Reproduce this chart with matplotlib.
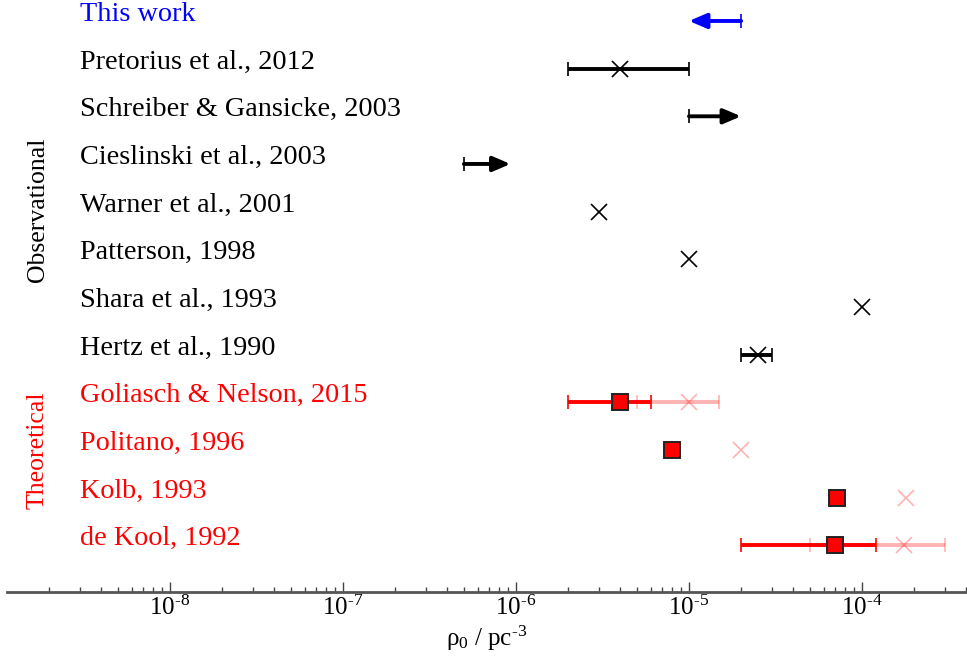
import numpy as np
import matplotlib.pyplot as plt
from matplotlib.ticker import FixedLocator, FuncFormatter, NullFormatter

plt.rcParams['font.family'] = ['Liberation Serif', 'DejaVu Serif']
plt.rcParams['mathtext.fontset'] = 'custom'
plt.rcParams['mathtext.rm'] = 'Liberation Serif'
plt.rcParams['mathtext.it'] = 'Liberation Serif:italic'

# row labels, top to bottom
labels = ['This work', 'Pretorius et al., 2012', 'Schreiber & Gansicke, 2003',
          'Cieslinski et al., 2003', 'Warner et al., 2001', 'Patterson, 1998',
          'Shara et al., 1993', 'Hertz et al., 1990', 'Goliasch & Nelson, 2015',
          'Politano, 1996', 'Kolb, 1993', 'de Kool, 1992']
label_colors = ['blue'] + ['black'] * 7 + ['red'] * 4

# observational points (value, low, high); None = no bar
obs_names = ['Pretorius et al., 2012', 'Warner et al., 2001', 'Patterson, 1998',
             'Shara et al., 1993', 'Hertz et al., 1990']
obs_val = [4e-6, 3e-6, 1e-5, 1e-4, 2.5e-5]
obs_lo = [2e-6, None, None, None, 2e-5]
obs_hi = [1e-5, None, None, None, 3e-5]

# limits: (name, start, end, colour)
lim_names = ['This work', 'Schreiber & Gansicke, 2003', 'Cieslinski et al., 2003']
lim_start = [2e-5, 1e-5, 5e-7]
lim_end = [1e-5, 2e-5, 9.3e-7]
lim_colors = ['blue', 'black', 'black']

# theoretical models
th_names = ['Goliasch & Nelson, 2015', 'Politano, 1996', 'Kolb, 1993', 'de Kool, 1992']
th_val = [4e-6, 8e-6, 7.2e-5, 7e-5]
th_lo = [2e-6, None, None, 2e-5]
th_hi = [6e-6, None, None, 1.2e-4]
# shifted (faint) values
th2_val = [1e-5, 2e-5, 1.8e-4, 1.75e-4]
th2_lo = [5e-6, None, None, 5e-5]
th2_hi = [1.5e-5, None, None, 3e-4]

decades = [1e-8, 1e-7, 1e-6, 1e-5, 1e-4]

n = len(labels)
ypos = {lab: n - i for i, lab in enumerate(labels)}

fig = plt.figure(figsize=(9.67, 6.62), dpi=100)
ax = fig.add_axes([7/967, 70/662, 960/967, 592/662])
ax.set_xscale('log')

pink = (1.0, 0.0, 0.0, 0.3)

for name, v, lo, hi in zip(obs_names, obs_val, obs_lo, obs_hi):
    y = ypos[name]
    if lo is not None:
        ax.errorbar([v], [y], xerr=[[v - lo], [hi - v]], fmt='none', ecolor='black',
                    elinewidth=2.8, capsize=4.8, capthick=1.2, zorder=2)
    ax.plot([v], [y], 'x', color='black', ms=11, mew=1.2, zorder=3)

for name, s, e, c in zip(lim_names, lim_start, lim_end, lim_colors):
    y = ypos[name]
    ax.annotate('', xy=(e, y), xytext=(s, y),
                arrowprops=dict(arrowstyle='-|>,head_length=0.75,head_width=0.32', color=c, lw=2.8,
                                mutation_scale=14, shrinkA=0, shrinkB=0))
    ax.plot([s], [y], '|', color=c, ms=9.5, mew=1.2, zorder=3)

for name, v, lo, hi, v2, lo2, hi2 in zip(th_names, th_val, th_lo, th_hi, th2_val, th2_lo, th2_hi):
    y = ypos[name]
    if lo is not None:
        ax.errorbar([v], [y], xerr=[[v - lo], [hi - v]], fmt='none', ecolor='red',
                    elinewidth=2.8, capsize=4.8, capthick=1.2, zorder=2)
    if lo2 is not None:
        ax.errorbar([v2], [y], xerr=[[v2 - lo2], [hi2 - v2]], fmt='none', ecolor=pink,
                    elinewidth=2.8, capsize=4.8, capthick=1.2, zorder=2)
    ax.plot([v2], [y], 'x', color=pink, ms=11, mew=1.2, zorder=3)
    ax.plot([v], [y], 's', color='red', mec='#222222', ms=11, mew=1.4, zorder=4)

# row labels
for lab, c in zip(labels, label_colors):
    ax.text((80 - 7) / 960, ypos[lab], lab, transform=ax.get_yaxis_transform(),
            fontsize=20.3, color=c, va='baseline', ha='left')
fig.text(38/967, 1 - 210/662, 'Observational', rotation=90, fontsize=18.5,
         color='black', ha='center', va='center')
fig.text(38/967, 1 - 450/662, 'Theoretical', rotation=90, fontsize=18.5,
         color='red', ha='center', va='center')

ax.set_xlim(10**-8.942, 10**-3.393)
ax.set_ylim(0.02, n + 0.44)
ax.set_yticks([])
for side in ['top', 'left', 'right']:
    ax.spines[side].set_visible(False)
ax.spines['bottom'].set_color('#555555')
ax.spines['bottom'].set_linewidth(2)

minors = [m * d for d in [1e-9] + decades for m in range(2, 10)]
minors = [m for m in minors if 10**-8.942 < m < 10**-3.393]
ax.xaxis.set_major_locator(FixedLocator(decades))
ax.xaxis.set_minor_locator(FixedLocator(minors))
ax.xaxis.set_minor_formatter(NullFormatter())
ax.xaxis.set_major_formatter(FuncFormatter(lambda v, p: r'$10^{\text{-}%d}$' % int(round(-np.log10(v)))))
ax.tick_params(axis='x', which='major', direction='in', length=7, width=1,
               color='#444444', labelsize=18, pad=3)
ax.tick_params(axis='x', which='minor', direction='in', length=3.5, width=1, color='#444444')
ax.set_xlabel(r'ρ$_0$ / pc$^{\text{-}3}$', fontsize=18, labelpad=2)

fig.savefig('out.png', dpi=100)
